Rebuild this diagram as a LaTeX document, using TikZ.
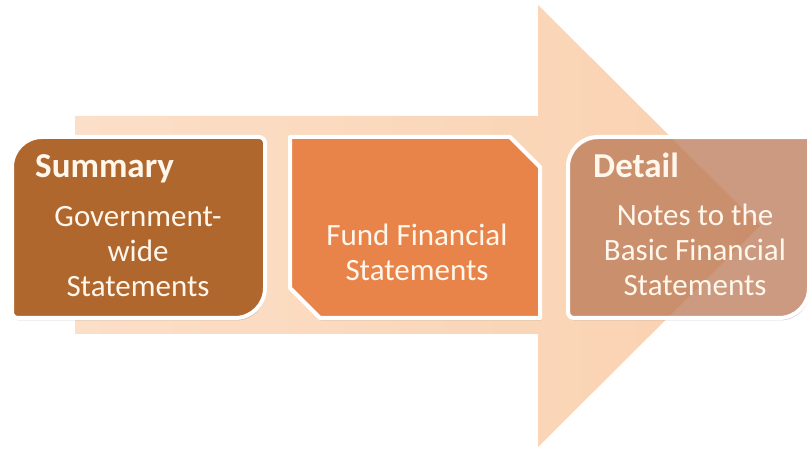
\documentclass[tikz,border=0pt]{standalone}
\usepackage{fontspec}
\setmainfont{Carlito}
\usetikzlibrary{shadows}
\definecolor{arrowlight}{HTML}{FCDFC8}
\definecolor{arrowdark}{HTML}{F9D1AF}
\definecolor{summaryfill}{HTML}{B0672E}
\definecolor{fundfill}{HTML}{E8844A}
\definecolor{detailfill}{HTML}{C8764A}
\definecolor{textcream}{HTML}{FFF6EC}
\tikzset{
  panel/.style={draw=white, line width=4pt, line join=round,
    drop shadow={opacity=0.35, shadow xshift=1pt, shadow yshift=-2.5pt}},
  heading/.style={text=textcream, font=\fontsize{35}{40}\selectfont\bfseries, anchor=base west, inner sep=0pt},
  bodytext/.style={text=textcream, font=\fontsize{31}{35}\selectfont, align=center, inner sep=0pt, anchor=base}
}
\begin{document}
\begin{tikzpicture}[x=1pt,y=1pt]
\useasboundingbox (0,0) rectangle (811,449);
% background arrow
\shade[left color=arrowlight, right color=arrowdark]
  (75,333) -- (538,333) -- (538,444) -- (760,223) -- (538,2) -- (538,115) -- (75,115) -- cycle;
% summary panel: rounded top-left and bottom-right
\path[panel, fill=summaryfill]
  (12,282) arc[start angle=180, end angle=90, radius=30] -- (259,312)
  arc[start angle=90, end angle=0, radius=6] -- (265,161)
  arc[start angle=0, end angle=-90, radius=30] -- (18,131)
  arc[start angle=270, end angle=180, radius=6] -- cycle;
% fund panel: snipped top-right and bottom-left
\path[panel, fill=fundfill]
  (290,312) -- (510,312) -- (540,282) -- (540,131) -- (320,131) -- (290,161) -- cycle;
% detail panel: translucent, rounded top-left and bottom-right
\path[panel, fill=detailfill, fill opacity=0.6]
  (568,282) arc[start angle=180, end angle=90, radius=30] -- (809,312)
  -- (809,161) arc[start angle=0, end angle=-90, radius=30] -- (574,131)
  arc[start angle=270, end angle=180, radius=6] -- cycle;
% texts (body nodes are placed by the baseline of their last line)
\node[heading] (sumhead) at (35,271) {Summary};
\node[bodytext] (sumbody) at (138,152) {Government-\\wide\\Statements};
\node[bodytext] (fundbody) at (417,168) {Fund Financial\\Statements};
\node[heading] (dethead) at (593,271) {Detail};
\node[bodytext] (detbody) at (695,153) {Notes to the\\Basic Financial\\Statements};
\end{tikzpicture}
\end{document}
